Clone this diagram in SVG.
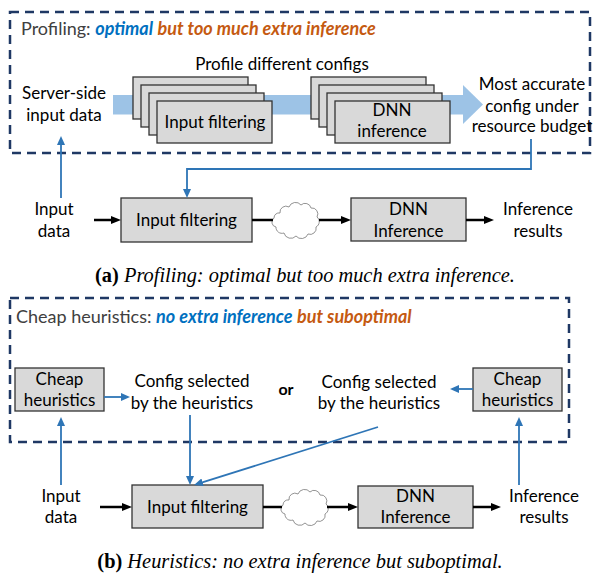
<svg xmlns="http://www.w3.org/2000/svg" width="594" height="576" viewBox="0 0 594 576">
<style>
.t{font-family:Lato,"Liberation Sans",sans-serif;font-size:17px;fill:#000;text-anchor:middle}
.ttl{font-family:Lato,"Liberation Sans",sans-serif;font-size:18px;fill:#404040}
.bl{fill:#0070C0;font-weight:bold;font-style:italic}
.or{fill:#C55A11;font-weight:bold;font-style:italic}
.cap{font-family:"Liberation Serif",serif;font-size:20.4px;font-style:italic;fill:#000;text-anchor:middle}
.capb{font-weight:bold;font-style:normal}
.dash{fill:none;stroke:#1F3864;stroke-width:2.5;stroke-dasharray:9 6}
.box{fill:#D9D9D9;stroke:#333;stroke-width:1.3}
.blue{fill:none;stroke:#2E75B6;stroke-width:1.8}
.blk{fill:none;stroke:#000;stroke-width:2.5}
.cloud{fill:#fff;stroke:#777;stroke-width:0.8}
</style>
<defs>
<marker id="ab" viewBox="0 0 10 8" refX="3" refY="4" markerWidth="10" markerHeight="8" markerUnits="userSpaceOnUse" orient="auto"><path d="M0,0 L10,4 L0,8 z" fill="#000"/></marker>
<marker id="au" viewBox="0 0 9 8" refX="2" refY="4" markerWidth="9" markerHeight="8" markerUnits="userSpaceOnUse" orient="auto"><path d="M0,0 L9,4 L0,8 z" fill="#2E75B6"/></marker>
<path id="cl" class="cloud" d="M8,10 A6,6 0 0 1 17,4 A7,7 0 0 1 29,2 A6,6 0 0 1 39,5 A6,6 0 0 1 45,14 A6,6 0 0 1 44,24 A6,6 0 0 1 36,31 A7,7 0 0 1 24,33 A7,7 0 0 1 12,30 A6,6 0 0 1 4,24 A5,5 0 0 1 2,15 A5,5 0 0 1 8,10 z"/>
</defs>

<!-- Panel (a) -->
<g id="profilingBox">
<rect class="dash" x="10" y="12" width="580" height="141"/>
<text class="ttl" x="21" y="35">Profiling: <tspan class="bl">optimal</tspan> <tspan class="or">but too much extra inference</tspan></text>
</g>
<g id="band">
<rect x="113" y="95" width="350" height="19.5" fill="#9DC3E6"/>
<polygon points="463,85 483,104.5 463,124" fill="#9DC3E6"/>
</g>
<text class="t" x="282" y="70">Profile different configs</text>
<g id="serverInput">
<text class="t" x="64" y="99">Server-side</text>
<text class="t" x="64" y="121">input data</text>
</g>
<g id="stackFilter">
<rect class="box" x="133" y="77" width="115" height="42"/>
<rect class="box" x="141" y="85" width="115" height="42"/>
<rect class="box" x="149" y="93" width="115" height="42"/>
<rect class="box" x="157" y="101" width="115" height="42"/>
<text class="t" x="215" y="128">Input filtering</text>
</g>
<g id="stackDNN">
<rect class="box" x="311" y="77" width="115" height="42"/>
<rect class="box" x="319" y="85" width="115" height="42"/>
<rect class="box" x="327" y="93" width="115" height="42"/>
<rect class="box" x="335" y="101" width="115" height="42"/>
<text class="t" x="392" y="116">DNN</text>
<text class="t" x="392" y="137">inference</text>
</g>
<g id="mostAccurate">
<text class="t" x="532" y="90">Most accurate</text>
<text class="t" x="532" y="112">config under</text>
<text class="t" x="532" y="132">resource budget</text>
</g>
<g id="inputDataA">
<text class="t" x="54" y="215">Input</text>
<text class="t" x="54" y="237">data</text>
</g>
<g id="filterA">
<rect class="box" x="121" y="198" width="131" height="44"/>
<text class="t" x="186.5" y="226">Input filtering</text>
</g>
<g id="cloudA"><use href="#cl" x="272" y="203"/></g>
<g id="dnnA">
<rect class="box" x="351" y="198" width="115" height="43"/>
<text class="t" x="408.5" y="215">DNN</text>
<text class="t" x="408.5" y="237">Inference</text>
</g>
<g id="resultsA">
<text class="t" x="538" y="215">Inference</text>
<text class="t" x="538" y="237">results</text>
</g>
<text class="cap" x="305" y="282"><tspan class="capb">(a)</tspan> Profiling: optimal but too much extra inference.</text>

<!-- Panel (b) -->
<g id="heuristicsBox">
<rect class="dash" x="10" y="298" width="559" height="144"/>
<text class="ttl" x="16" y="323">Cheap heuristics: <tspan class="bl">no extra inference</tspan> <tspan class="or">but suboptimal</tspan></text>
</g>
<g id="cheapL">
<rect class="box" x="15" y="368" width="89" height="43"/>
<text class="t" x="59.5" y="385">Cheap</text>
<text class="t" x="59.5" y="406">heuristics</text>
</g>
<g id="configL">
<text class="t" x="192" y="387">Config selected</text>
<text class="t" x="192" y="409">by the heuristics</text>
</g>
<text x="286" y="395" font-family="Lato,'Liberation Sans',sans-serif" font-size="16" font-weight="bold" text-anchor="middle">or</text>
<g id="configR">
<text class="t" x="379" y="388">Config selected</text>
<text class="t" x="379" y="409">by the heuristics</text>
</g>
<g id="cheapR">
<rect class="box" x="473" y="368" width="89" height="43"/>
<text class="t" x="517.5" y="385">Cheap</text>
<text class="t" x="517.5" y="406">heuristics</text>
</g>
<g id="inputDataB">
<text class="t" x="61" y="502">Input</text>
<text class="t" x="61" y="523">data</text>
</g>
<g id="filterB">
<rect class="box" x="132" y="485" width="131" height="43"/>
<text class="t" x="197.5" y="513">Input filtering</text>
</g>
<g id="cloudB"><use href="#cl" x="281" y="490"/></g>
<g id="dnnB">
<rect class="box" x="358" y="486" width="115" height="42"/>
<text class="t" x="415.5" y="502">DNN</text>
<text class="t" x="415.5" y="523">Inference</text>
</g>
<g id="resultsB">
<text class="t" x="544" y="502">Inference</text>
<text class="t" x="544" y="523">results</text>
</g>
<text class="cap" x="300" y="568"><tspan class="capb">(b)</tspan> Heuristics: no extra inference but suboptimal.</text>

<g id="connectors">
<polyline class="blue" points="531,139 531,169 187,169 187,191" marker-end="url(#au)"/>
<line class="blue" x1="61" y1="198" x2="61" y2="143" marker-end="url(#au)"/>
<line class="blk" x1="94" y1="220" x2="114" y2="220" marker-end="url(#ab)"/>
<line class="blk" x1="252" y1="220" x2="273" y2="220"/>
<line class="blk" x1="319" y1="220" x2="344" y2="220" marker-end="url(#ab)"/>
<line class="blk" x1="466" y1="220" x2="487" y2="220" marker-end="url(#ab)"/>

<line class="blue" x1="104" y1="397" x2="123" y2="397" marker-end="url(#au)"/>
<line class="blue" x1="473" y1="389" x2="457" y2="389" marker-end="url(#au)"/>
<line class="blue" x1="61" y1="485" x2="61" y2="424" marker-end="url(#au)"/>
<line class="blue" x1="519" y1="485" x2="519" y2="424" marker-end="url(#au)"/>
<line class="blue" x1="190" y1="415" x2="190" y2="478" marker-end="url(#au)"/>
<line class="blue" x1="378" y1="427" x2="200.7" y2="482.9" marker-end="url(#au)"/>
<line class="blk" x1="100" y1="507" x2="125" y2="507" marker-end="url(#ab)"/>
<line class="blk" x1="263" y1="507" x2="282" y2="507"/>
<line class="blk" x1="327" y1="507" x2="351" y2="507" marker-end="url(#ab)"/>
<line class="blk" x1="473" y1="507" x2="494" y2="507" marker-end="url(#ab)"/>
</g>
</svg>
